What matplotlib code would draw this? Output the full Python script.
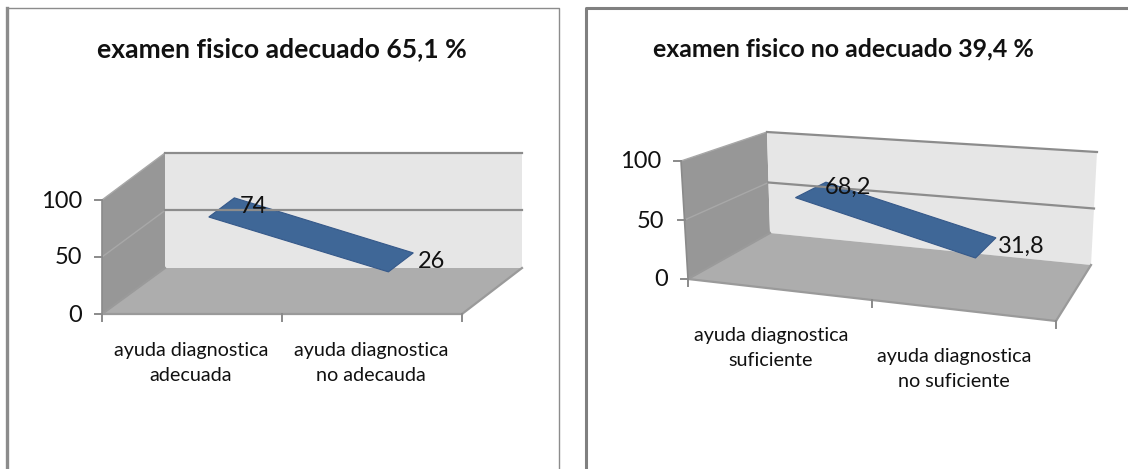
#!/usr/bin/env python3
"""Two pseudo-3D ribbon charts, drawn on a pixel canvas."""

import numpy as np
import matplotlib
matplotlib.use("Agg")
import matplotlib.pyplot as plt
from matplotlib.patches import Polygon

plt.rcParams["font.family"] = ["Lato", "DejaVu Sans"]

# data
titles = ["examen fisico adecuado 65,1 %", "examen fisico no adecuado 39,4 %"]
cats_left = ["ayuda diagnostica\nadecuada", "ayuda diagnostica\nno adecauda"]
cats_right = ["ayuda diagnostica\nsuficiente", "ayuda diagnostica\nno suficiente"]
values_left = [74, 26]
values_right = [68.2, 31.8]
labels_left = ["74", "26"]
labels_right = ["68,2", "31,8"]
y_ticks = [0, 50, 100]

# box corners in pixels: (category 0/1, value 0/1, depth 0/1)
BOX_LEFT = {
    (0, 0, 0): (102, 314), (0, 1, 0): (102, 200),
    (1, 0, 0): (462, 314), (1, 1, 0): (462, 200),
    (0, 0, 1): (165, 268), (0, 1, 1): (165, 153),
    (1, 0, 1): (522, 268), (1, 1, 1): (522, 153),
}
BOX_RIGHT = {
    (0, 0, 0): (688, 279), (0, 1, 0): (681, 161),
    (1, 0, 0): (1056, 321), (1, 1, 0): (1050, 196),
    (0, 0, 1): (770, 233), (0, 1, 1): (767, 132),
    (1, 0, 1): (1091, 265), (1, 1, 1): (1097, 152),
}


def project(box, u, v, d):
    """trilinear position inside the box"""
    p = np.zeros(2)
    for (a, b, c), xy in box.items():
        w = (u if a else 1 - u) * (v if b else 1 - v) * (d if c else 1 - d)
        p += w * np.array(xy, dtype=float)
    return p


def draw_chart(ax, box, values, labels, cats, title, title_x, title_size, cat_pos, label_off):
    P = lambda u, v, d: project(box, u, v, d)

    # side wall, back wall, floor
    ax.add_patch(Polygon([P(0, 0, 0), P(0, 1, 0), P(0, 1, 1), P(0, 0, 1)], fc="#979797", ec="none"))
    ax.add_patch(Polygon([P(0, 0, 1), P(0, 1, 1), P(1, 1, 1), P(1, 0, 1)], fc="#e6e6e6", ec="none"))
    ax.add_patch(Polygon([P(0, 0, 0), P(0, 0, 1), P(1, 0, 1), P(1, 0, 0)], fc="#adadad", ec="none"))

    # gridlines
    for t in y_ticks[1:]:
        v = t / 100
        pts = np.array([P(0, v, 0), P(0, v, 1), P(1, v, 1)])
        ax.plot(pts[:2, 0], pts[:2, 1], color="#a8a8a8", lw=1.0)
        ax.plot(pts[1:, 0], pts[1:, 1], color="#8c8c8c", lw=1.6)
    # edges of the box
    edge = "#9a9a9a"
    for seg in [(P(0, 0, 0), P(1, 0, 0)), (P(1, 0, 0), P(1, 0, 1)), (P(0, 0, 0), P(0, 0, 1))]:
        ax.plot(*np.array(seg).T, color=edge, lw=1.6)
    ax.plot(*np.array([P(0, 0, 0), P(0, 1, 0)]).T, color="#8a8a8a", lw=1.2)

    # ticks
    for t in y_ticks:
        p = P(0, t / 100, 0)
        ax.plot([p[0] - 7, p[0]], [p[1], p[1]], color="#8a8a8a", lw=1.4)
        ax.text(p[0] - 20, p[1] + 1, str(t), ha="right", va="center", fontsize=17, color="#111111")
    for u in [0, 0.5, 1]:
        p = P(u, 0, 0)
        ax.plot([p[0], p[0]], [p[1], p[1] + 7], color="#8a8a8a", lw=1.4)

    # ribbon
    us = [0.25, 0.75]
    d0, d1 = 0.27, 0.68
    front = [P(u, val / 100, d0) for u, val in zip(us, values)]
    back = [P(u, val / 100, d1) for u, val in zip(us, values)]
    ax.add_patch(Polygon(front + back[::-1], fc="#3f6797", ec="#36598a", lw=0.8))

    for (x, y), lab, off in zip(back, labels, label_off):
        ax.text(x + off[0], y + off[1], lab, ha="center", va="center", fontsize=17, color="#111111")

    for (x, y), cat in zip(cat_pos, cats):
        ax.text(x, y, cat, ha="center", va="center", fontsize=14.2, color="#111111", linespacing=1.55)

    ax.text(title_x, 49, title, ha="center", va="center", fontsize=title_size, fontweight="bold", color="#111111")


fig = plt.figure(figsize=(11.28, 4.69), dpi=100)
ax = fig.add_axes([0, 0, 1, 1])
ax.set_xlim(0, 1128)
ax.set_ylim(469, 0)
ax.axis("off")

# panel frames
ax.plot([7, 7, 559, 559], [469, 8, 8, 469], color="#8c8c8c", lw=1.0)
ax.plot([7, 7], [469, 8], color="#8c8c8c", lw=2.4)
ax.plot([586, 586, 1128], [469, 8, 8], color="#808080", lw=2.2)

draw_chart(ax, BOX_LEFT, values_left, labels_left, cats_left, titles[0], 282, 19.1,
           [(191, 363), (371, 363)], [(19, 9), (18, 9)])
draw_chart(ax, BOX_RIGHT, values_right, labels_right, cats_right, titles[1], 843, 17.9,
           [(771, 348), (954, 369)], [(22, 5), (25, 9)])

fig.savefig("out.png", dpi=100)
